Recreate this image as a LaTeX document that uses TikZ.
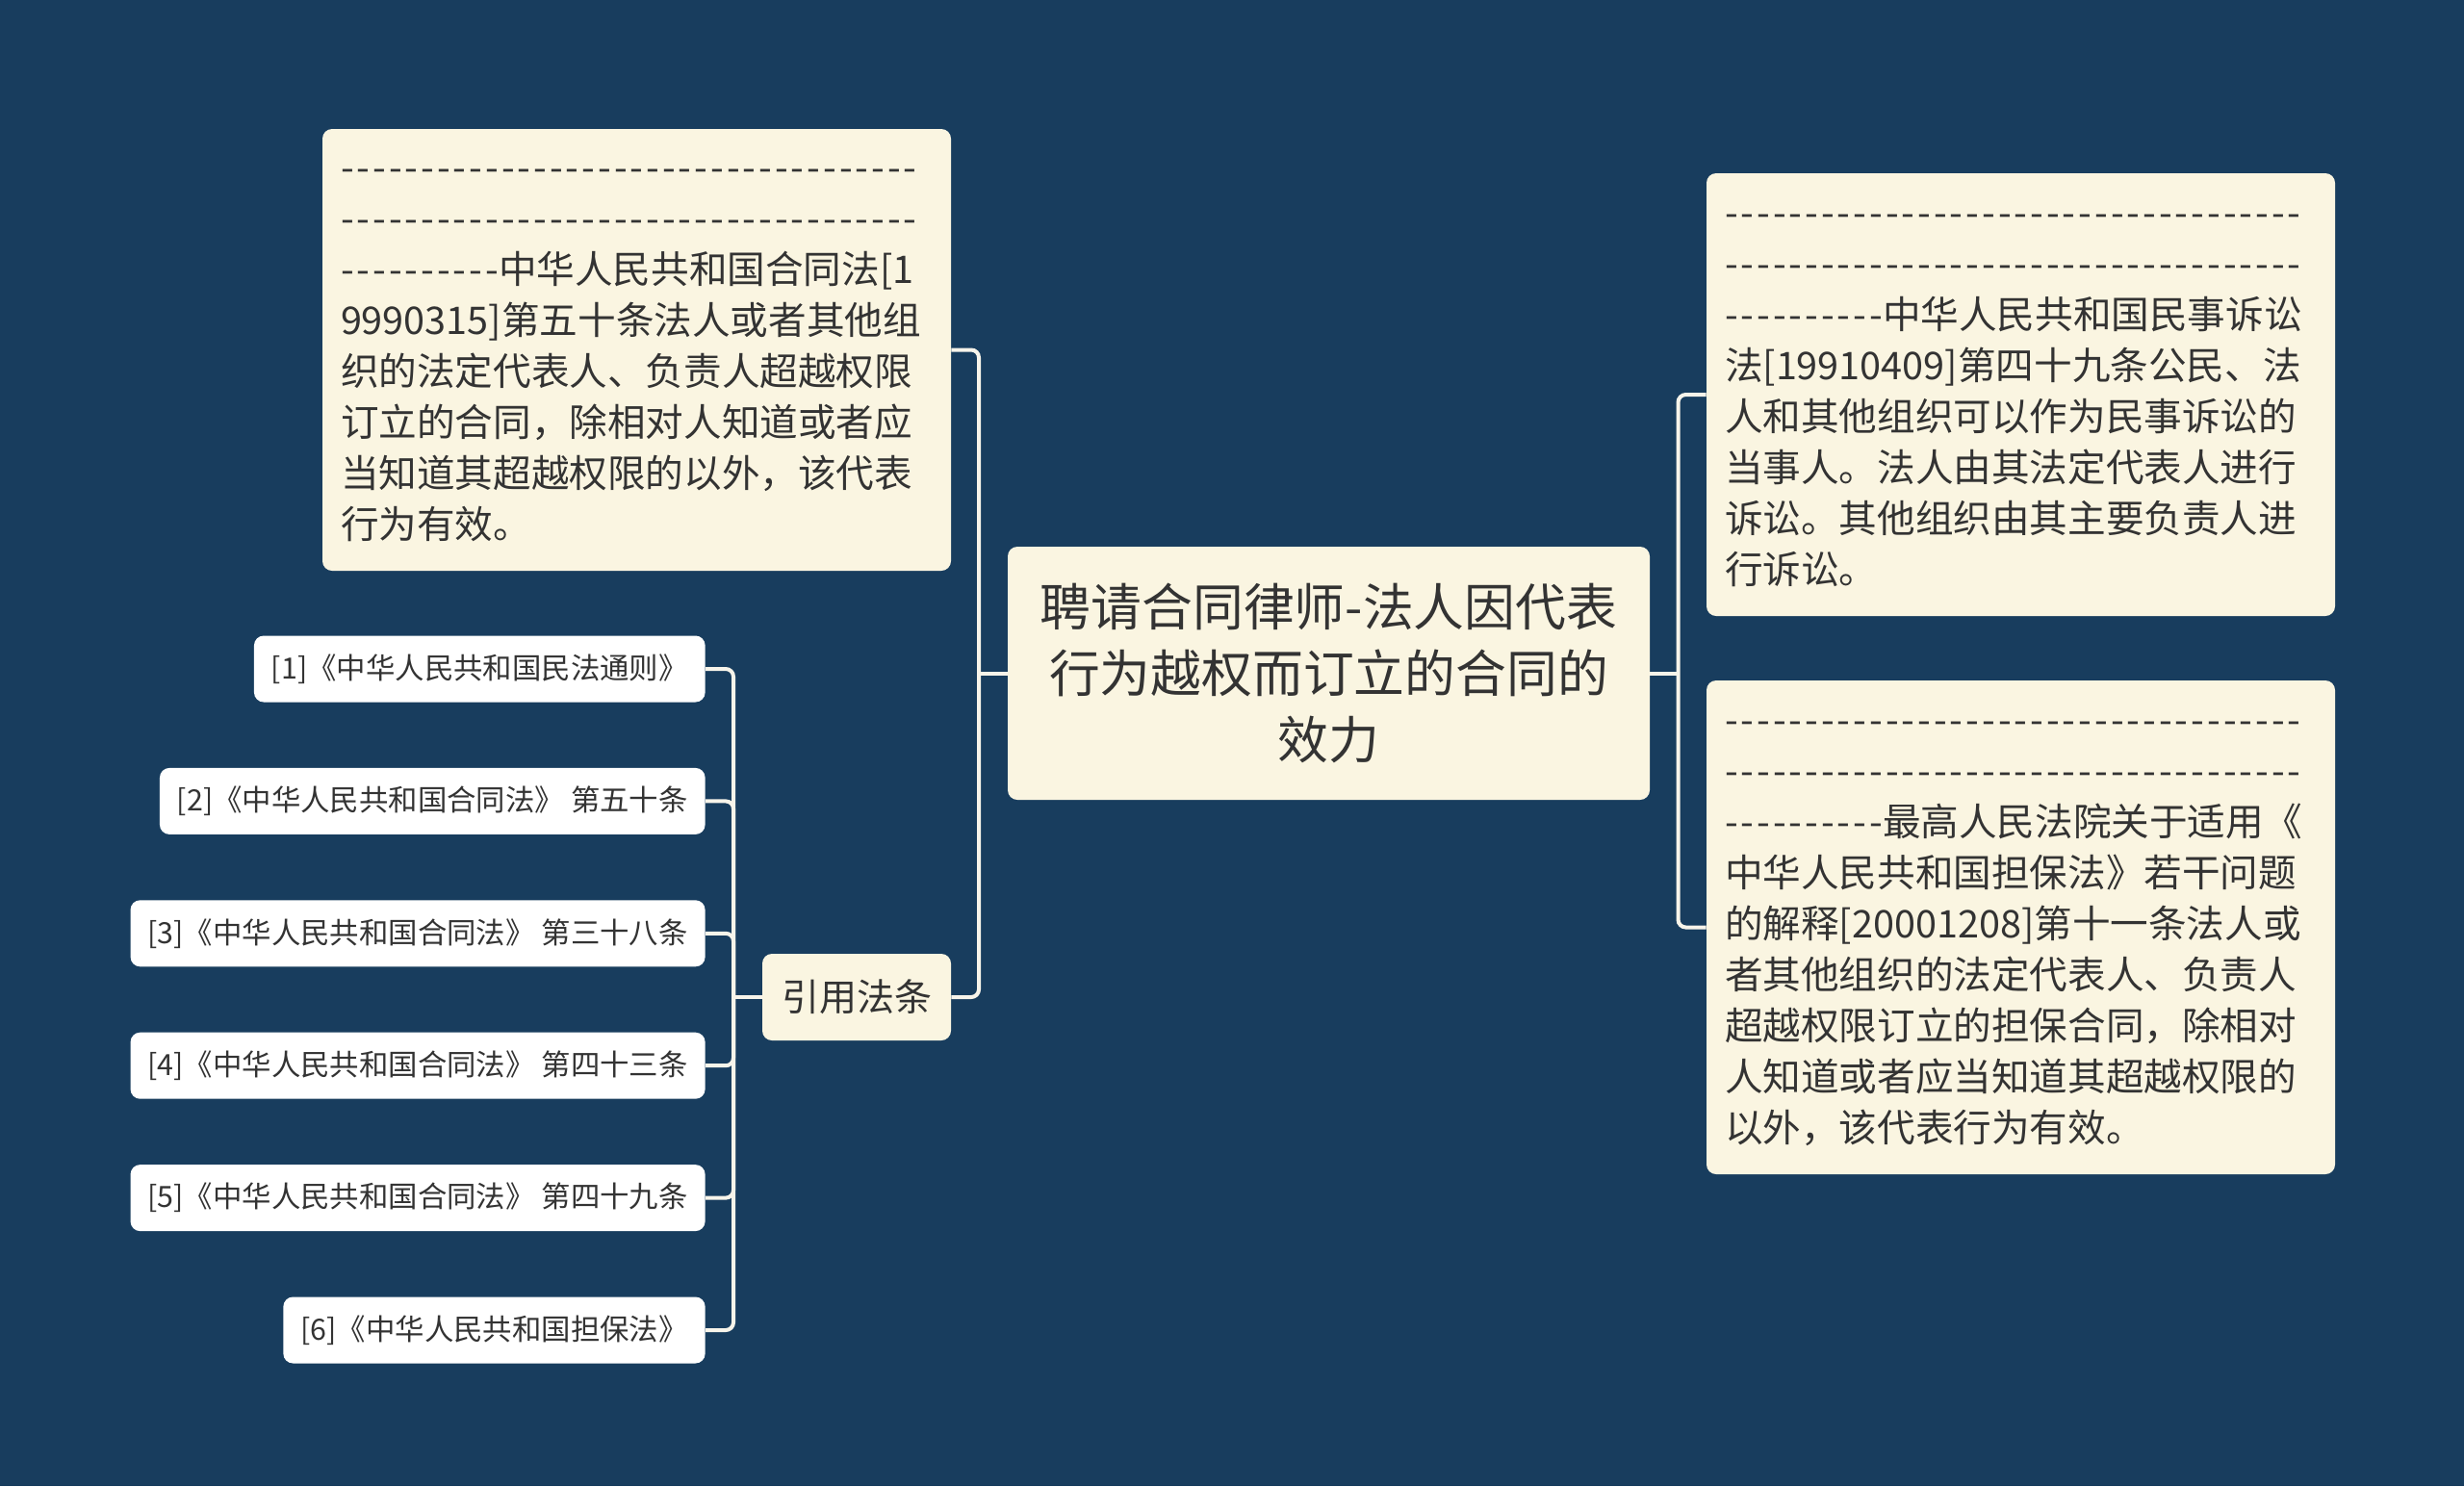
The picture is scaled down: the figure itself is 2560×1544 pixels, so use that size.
\documentclass[tikz,border=0pt]{standalone}
\usepackage{fontspec}
\newfontfamily\cjk{Noto Sans CJK SC}
\usetikzlibrary{positioning}
\definecolor{bgblue}{HTML}{183D5E}
\definecolor{cream}{HTML}{FAF5E1}
\definecolor{ink}{HTML}{333333}
\definecolor{wire}{HTML}{F7F4EA}
\newcommand\dashrun[1]{{\addfontfeatures{LetterSpace=7.5}#1}}

\begin{document}
\begin{tikzpicture}[x=0.5pt,y=-0.5pt,node distance=33.8pt,
link/.style={draw=wire,line width=2pt,rounded corners=4pt},
card/.style={fill=cream,rounded corners=5pt,text=ink},
note/.style={card,align=left,text width=307.5pt,inner xsep=9.5pt,minimum width=326.5pt,
  execute at begin node=\strut,execute at end node=\strut,
  font=\cjk\fontsize{19.8pt}{26.5pt}\selectfont},
leaf/.style={fill=white,rounded corners=5pt,text=ink,inner xsep=9pt,minimum height=34.5pt,
  font=\cjk\fontsize{15.2pt}{18pt}\selectfont}]
\fill[bgblue] (0,0) rectangle (2560,1544);
\useasboundingbox (0,0) rectangle (2560,1544);

% central topic
\node[card,align=center,text width=315pt,inner xsep=9.25pt,minimum height=131.5pt,
  font=\cjk\fontsize{26.4pt}{34.5pt}\selectfont] (root) at (1380.5,699.5)
  {聘请合同律师-法人因代表\\行为越权而订立的合同的\\效力};

% left side
\node[note,minimum height=229.5pt] (tl) at (661.5,363.5) {%
\dashrun{------------------------------------}\\
\dashrun{------------------------------------}\\
\dashrun{----------}中华人民共和国合同法[1\\
9990315]第五十条法人或者其他组\\
织的法定代表人、负责人超越权限\\
订立的合同，除相对人知道或者应\\
当知道其超越权限的以外，该代表\\
行为有效。};
\node[card,minimum width=98pt,minimum height=45pt,
  font=\cjk\fontsize{19.5pt}{24pt}\selectfont] (cite) at (890,1036) {引用法条};

% right side
\node[note,minimum height=230pt] (rt) at (2099.5,410) {%
\dashrun{------------------------------------}\\
\dashrun{------------------------------------}\\
\dashrun{----------}中华人民共和国民事诉讼\\
法[19910409]第四十九条公民、法\\
人和其他组织可以作为民事诉讼的\\
当事人。法人由其法定代表人进行\\
诉讼。其他组织由其主要负责人进\\
行诉讼。};
\node[note,minimum height=256.5pt] (rb) at (2099.5,963.5) {%
\dashrun{------------------------------------}\\
\dashrun{------------------------------------}\\
\dashrun{----------}最高人民法院关于适用《\\
中华人民共和国担保法》若干问题\\
的解释[20001208]第十一条法人或\\
者其他组织的法定代表人、负责人\\
超越权限订立的担保合同，除相对\\
人知道或者应当知道其超越权限的\\
以外，该代表行为有效。};

% cited laws
\node[leaf,anchor=east] (l1) at (733,695) {[1]《中华人民共和国民法通则》};
\node[leaf,below=of l1.south east,anchor=north east] (l2) {[2]《中华人民共和国合同法》 第五十条};
\node[leaf,below=of l2.south east,anchor=north east] (l3) {[3]《中华人民共和国合同法》 第三十八条};
\node[leaf,below=of l3.south east,anchor=north east] (l4) {[4]《中华人民共和国合同法》 第四十三条};
\node[leaf,below=of l4.south east,anchor=north east] (l5) {[5]《中华人民共和国合同法》 第四十九条};
\node[leaf,below=of l5.south east,anchor=north east] (l6) {[6]《中华人民共和国担保法》};

% connectors
\coordinate (jl) at (1017,699.5);
\coordinate (jr) at (1743.5,699.5);
\coordinate (jc) at (762,1036);
\draw[link] (tl.east) -| (jl) |- (cite.east);
\draw[link] (root.west) -- (jl);
\draw[link] (rt.west) -| (jr) |- (rb.west);
\draw[link] (root.east) -- (jr);
\draw[link] (l1.east) -| (jc) |- (l6.east);
\draw[link] (l2.east) -| (jc);
\draw[link] (l3.east) -| (jc);
\draw[link] (l4.east) -| (jc);
\draw[link] (l5.east) -| (jc);
\draw[link] (cite.west) -- (jc);
\end{tikzpicture}
\end{document}
